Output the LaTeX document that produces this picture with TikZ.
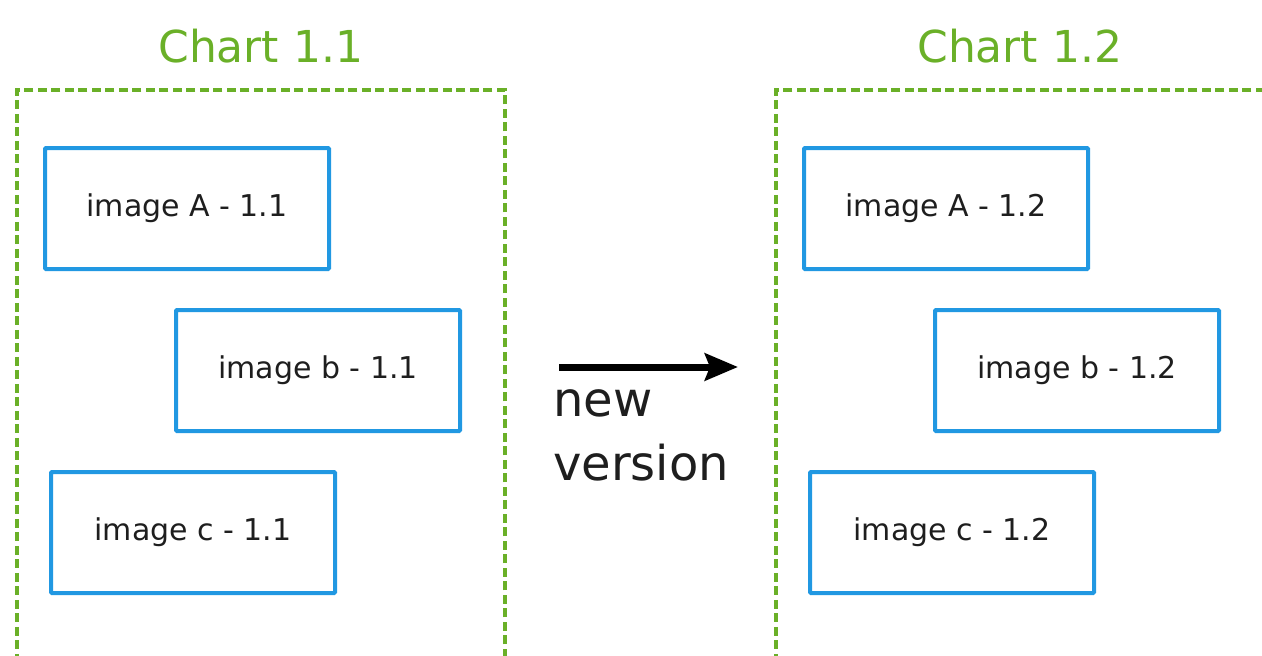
\documentclass[tikz,border=0pt]{standalone}
\usepackage{fontspec}
\setmainfont{DejaVu Sans}
\usetikzlibrary{positioning,arrows.meta}

\definecolor{chartgreen}{RGB}{106,176,40}
\definecolor{imageblue}{RGB}{33,152,226}
\definecolor{textgray}{RGB}{30,30,30}

\begin{document}
\begin{tikzpicture}[x=1pt,y=1pt,
    chart/.style={draw=chartgreen,
        line width=3.5pt,
        dash pattern=on 9pt off 4.5pt,
        minimum width=488pt,
        minimum height=620pt,
        inner sep=0},
    charttitle/.style={text=chartgreen,
        font=\fontsize{44}{52}\selectfont,
        inner sep=0},
    imagebox/.style={draw=imageblue,
        line width=4pt,
        rounded corners=1pt,
        minimum width=284pt,
        minimum height=121pt,
        text=textgray,
        font=\fontsize{30}{36}\selectfont}]

\useasboundingbox (0,0) rectangle (1262,-656);
\clip (0,0) rectangle (1262,-656);

% Old chart
\node[chart, anchor=north west] (chart1) at (15,-88) {};
\node[charttitle, above=25pt of chart1] (title1) {Chart 1.1};

\node[imagebox,
    below right=58pt and 28pt of chart1.north west] (imga1) {image A - 1.1};
\node[imagebox,
    below=37pt of imga1,
    xshift=131pt] (imgb1) {image b - 1.1};
\node[imagebox,
    below=37pt of imgb1,
    xshift=-125pt] (imgc1) {image c - 1.1};

% New chart
\node[chart, anchor=north west] (chart2) at (774,-88) {};
\node[charttitle, above=25pt of chart2] (title2) {Chart 1.2};

\node[imagebox,
    below right=58pt and 28pt of chart2.north west] (imga2) {image A - 1.2};
\node[imagebox,
    below=37pt of imga2,
    xshift=131pt] (imgb2) {image b - 1.2};
\node[imagebox,
    below=37pt of imgb2,
    xshift=-125pt] (imgc2) {image c - 1.2};

% Arrow between the charts
\coordinate (from) at (559,-367);
\coordinate (to) at (738,-367);
\draw[line width=7pt, -{Stealth[length=33pt,width=27pt,inset=5pt]}] (from) -- (to);

\node[below right=22pt and -6pt of from,
    align=left,
    inner sep=0,
    text=textgray,
    font=\fontsize{48}{64}\selectfont] (newver) {new\\version};

\end{tikzpicture}
\end{document}
